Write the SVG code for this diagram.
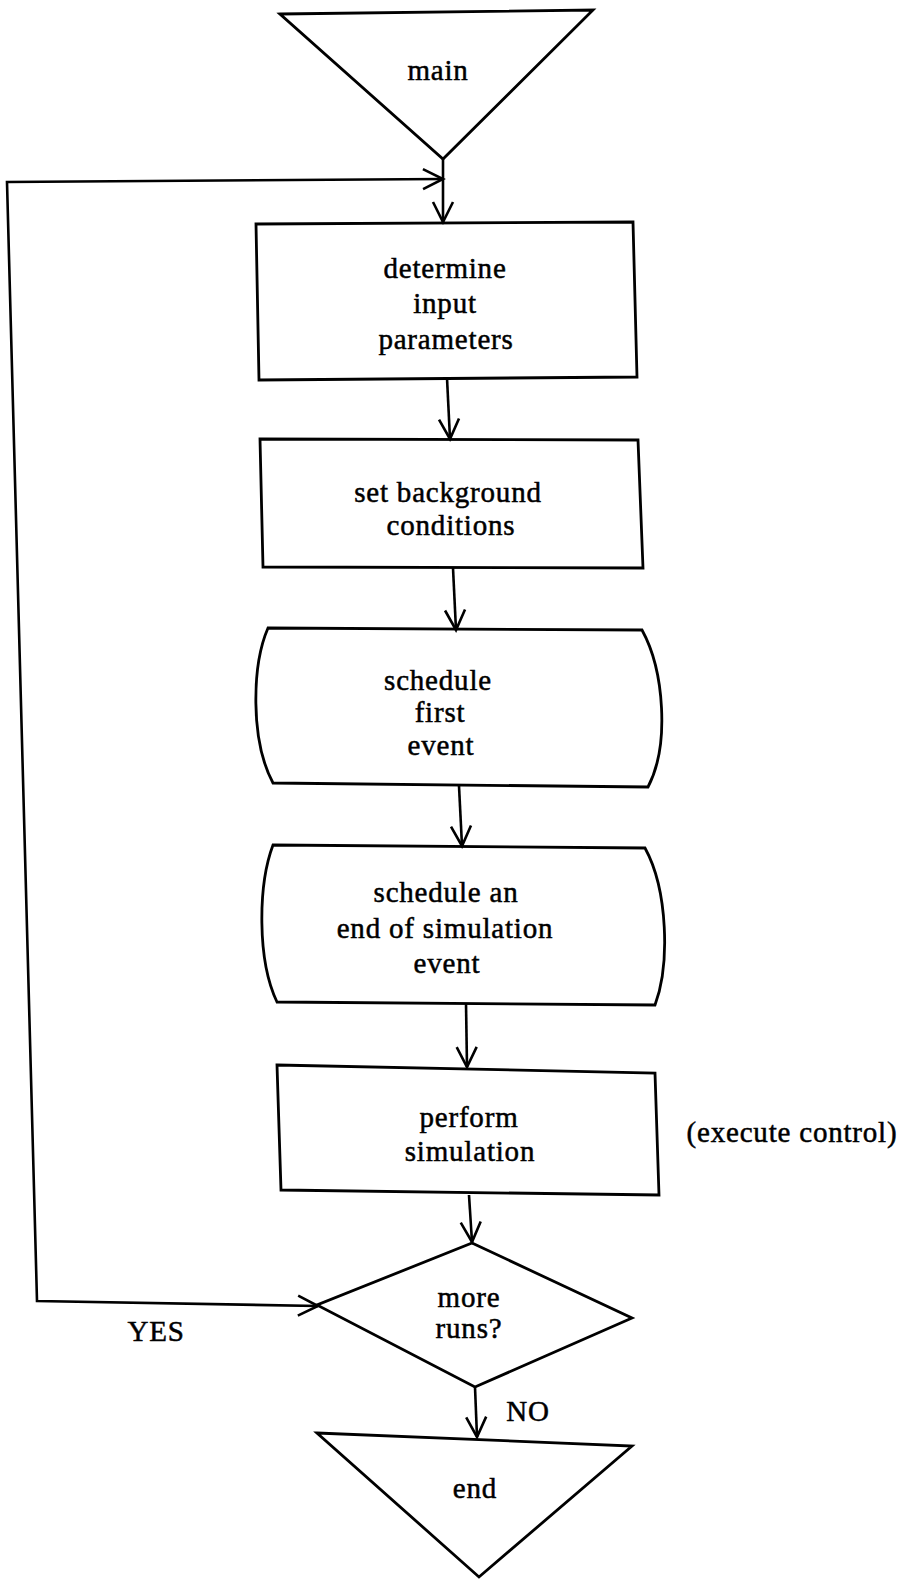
<svg xmlns="http://www.w3.org/2000/svg" width="907" height="1585" viewBox="0 0 907 1585">
  <style>
    .shape { fill: none; stroke: #000; stroke-width: 2.8; stroke-linejoin: miter; }
    .wire { fill: none; stroke: #000; stroke-width: 2.6; }
    .label { font-family: "Liberation Serif", "Times New Roman", serif; font-size: 29px; letter-spacing: 0.8px; fill: #000; stroke: #000; stroke-width: 0.5px; text-anchor: middle; }
  </style>
  <defs>
    <marker id="vee" markerUnits="userSpaceOnUse" viewBox="-22 -12 24 24" refX="0" refY="0" markerWidth="24" markerHeight="24" orient="auto" overflow="visible">
      <path d="M-20,-10 L0,0 L-20,10" fill="none" stroke="#000" stroke-width="2.6"/>
    </marker>
    <marker id="vee-back" markerUnits="userSpaceOnUse" viewBox="-22 -12 24 24" refX="0" refY="0" markerWidth="24" markerHeight="24" orient="auto-start-reverse" overflow="visible">
      <path d="M-20,-10 L0,0 L-20,10" fill="none" stroke="#000" stroke-width="2.6"/>
    </marker>
  </defs>
  <rect width="907" height="1585" fill="#fff"/>

  <g id="connectors">
    <path class="wire" d="M443,159 L443,222" marker-end="url(#vee)"/>
    <path class="wire" d="M318,1306 L37,1301 L7,182 L443,179" marker-start="url(#vee-back)" marker-end="url(#vee)"/>
    <path class="wire" d="M447,378 L450,439" marker-end="url(#vee)"/>
    <path class="wire" d="M453,568 L456,630" marker-end="url(#vee)"/>
    <path class="wire" d="M459,786 L462,846" marker-end="url(#vee)"/>
    <path class="wire" d="M466,1003 L467,1067" marker-end="url(#vee)"/>
    <path class="wire" d="M469,1195 L472,1242" marker-end="url(#vee)"/>
    <path class="wire" d="M475,1387 L477,1437" marker-end="url(#vee)"/>
    <text class="label" x="156" y="1341">YES</text>
    <text class="label" x="528" y="1421">NO</text>
  </g>

  <g id="start">
    <path class="shape" d="M280,14 L593,10 L443,159 Z"/>
    <text class="label" x="438" y="80">main</text>
  </g>

  <g id="input">
    <path class="shape" d="M256,224 L633,222 L637,377 L259,380 Z"/>
    <text class="label" x="445" y="278">determine</text>
    <text class="label" x="445" y="313">input</text>
    <text class="label" x="446" y="349">parameters</text>
  </g>

  <g id="background">
    <path class="shape" d="M260,439 L638,440 L643,568 L263,567 Z"/>
    <text class="label" x="448" y="502">set background</text>
    <text class="label" x="451" y="535">conditions</text>
  </g>

  <g id="first-event">
    <path class="shape" d="M268,628 L642,630 C664,670 670,745 648,787 L273,783 C250,740 252,665 268,628 Z"/>
    <text class="label" x="438" y="690">schedule</text>
    <text class="label" x="440" y="722">first</text>
    <text class="label" x="441" y="755">event</text>
  </g>

  <g id="end-event">
    <path class="shape" d="M273,845 L645,848 C668,890 670,965 655,1005 L277,1002 C257,960 258,885 273,845 Z"/>
    <text class="label" x="446" y="902">schedule an</text>
    <text class="label" x="445" y="938">end of simulation</text>
    <text class="label" x="447" y="973">event</text>
  </g>

  <g id="simulate">
    <path class="shape" d="M277,1065 L655,1073 L659,1195 L281,1190 Z"/>
    <text class="label" x="469" y="1127">perform</text>
    <text class="label" x="470" y="1161">simulation</text>
    <text class="label" x="792" y="1142">(execute control)</text>
  </g>

  <g id="more-runs">
    <path class="shape" d="M472,1243 L632,1318 L475,1387 L317,1305 Z"/>
    <text class="label" x="469" y="1307">more</text>
    <text class="label" x="469" y="1338">runs?</text>
  </g>

  <g id="finish">
    <path class="shape" d="M317,1433 L632,1446 L479,1577 Z"/>
    <text class="label" x="475" y="1498">end</text>
  </g>
</svg>
